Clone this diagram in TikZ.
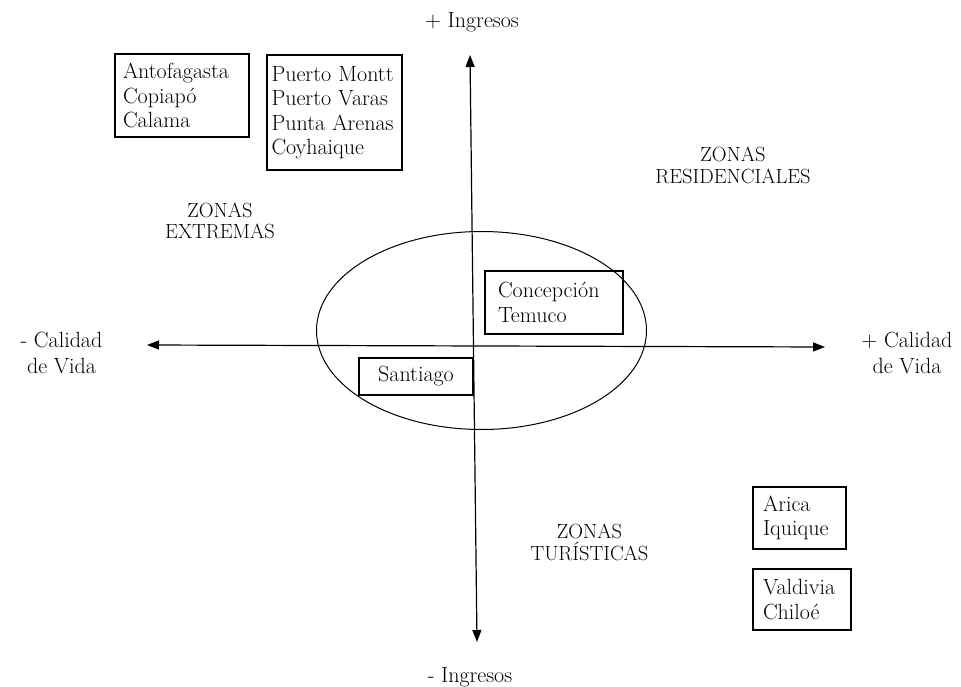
\documentclass[tikz,border=0pt]{standalone}
\usetikzlibrary{arrows.meta,shapes.geometric}
\begin{document}
\tikzset{
  box/.style={draw, line width=1.3pt, inner sep=0pt, align=left, font=\fontsize{22}{24.5}\selectfont},
  zone/.style={align=center, inner sep=0pt, font=\fontsize{20.5}{21.5}\selectfont},
  axislbl/.style={align=center, inner sep=0pt, font=\fontsize{22}{26}\selectfont},
  axis/.style={line width=1.2pt, {Triangle[length=12pt,width=9pt]}-{Triangle[length=12pt,width=9pt]}},
  oval/.style={draw, ellipse, line width=1pt, inner sep=0pt},
}
\begin{tikzpicture}[x=1pt,y=-1pt]
\useasboundingbox (0,0) rectangle (961,687);
% ellipse
\node[oval, minimum width=330pt, minimum height=198pt] (ov) at (481.5,330.5) {};
% axes
\coordinate (top) at (470,55);
\coordinate (bot) at (477,642);
\coordinate (lft) at (147,345);
\coordinate (rgt) at (825,347);
\draw[axis] (lft) -- (rgt);
\draw[axis] (top) -- (bot);
% boxes
\node[box, minimum width=134pt, minimum height=83pt, text width=118pt] (anto) at (182,95.5) {Antofagasta\\Copiapó\\Calama};
\node[box, minimum width=135pt, minimum height=115pt, text width=126pt] (pmontt) at (334.5,112.5) {Puerto Montt\\Puerto Varas\\Punta Arenas\\Coyhaique};
\node[box, minimum width=138pt, minimum height=63pt, text width=112pt] (conce) at (554,302.5) {Concepción\\Temuco};
\node[box, align=center, minimum width=114pt, minimum height=37pt] (stgo) at (416,376.5) {Santiago};
\node[box, minimum width=93pt, minimum height=62pt, text width=73pt] (arica) at (799.5,518) {Arica\\Iquique};
\node[box, minimum width=98pt, minimum height=61pt, text width=78pt] (valdivia) at (802,599.5) {Valdivia\\Chiloé};
% axis labels
\node[axislbl, anchor=base] (ingp) at (472,28) {+ Ingresos};
\node[axislbl, anchor=base] (ingm) at (470,682) {- Ingresos};
\node[axislbl] (calm) at (61.5,352.5) {- Calidad\\de Vida};
\node[axislbl] (calp) at (907,352.5) {+ Calidad\\de Vida};
% zone labels
\node[zone] (zext) at (220,221) {ZONAS\\EXTREMAS};
\node[zone] (zres) at (733,165.5) {ZONAS\\RESIDENCIALES};
\node[zone] (ztur) at (589.5,542.5) {ZONAS\\TURÍSTICAS};
\end{tikzpicture}
\end{document}
